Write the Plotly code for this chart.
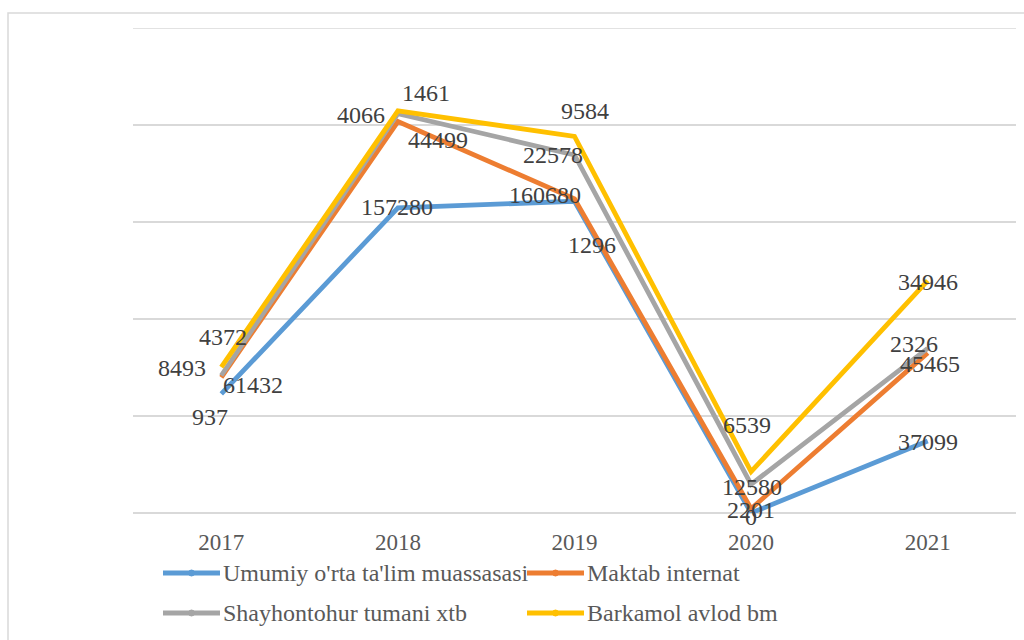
import numpy as np
import plotly.graph_objects as go

# ---------------- data ----------------
years = ["2017", "2018", "2019", "2020", "2021"]
series_names = ["Umumiy o'rta ta'lim muassasasi", "Maktab internat",
                "Shayhontohur tumani xtb", "Barkamol avlod bm"]
umumiy = [61432, 157280, 160680, 0, 37099]
maktab = [8493, 44499, 1296, 2201, 45465]
shayhontohur = [937, 4066, 22578, 12580, 2326]
barkamol = [4372, 1461, 9584, 6539, 34946]

# ---------------- style ----------------
colors = ["#5B9BD5", "#ED7D31", "#A5A5A5", "#FFC000"]
FONT = "Liberation Serif"
W, H = 1024, 640
L, R, T, B = 133, 8, 28, 127
PW, PH = W - L - R, H - T - B
Y_MAX = 250000

# data-label pixel offsets (x right, y up) for each series / year
label_dx = [[32, -1, -30, 0, 0],
            [-39, 40, 17, 0, 2],
            [-11, -37, -22, 1, -14],
            [2, 28, 10, -4, 0]]
label_dy = [[9, 1, 6, -4, -1],
            [9, -18, -46, -1, -11],
            [-41, -1, 0, -3, 4],
            [30, 18, 25, 47, -1]]


def px_x(px):
    return (px - L) / PW


def px_y(py):
    return (H - B - py) / PH


all_series = [umumiy, maktab, shayhontohur, barkamol]
cum = np.cumsum(np.array(all_series), axis=0)

fig = go.Figure()
for i, (name, vals) in enumerate(zip(series_names, all_series)):
    fig.add_trace(go.Scatter(
        x=years, y=vals, name=name, stackgroup="one", fill="none",
        mode="lines", line=dict(color=colors[i], width=4.8),
        showlegend=False, hoverinfo="x+y+name"))

annotations = []
for i, vals in enumerate(all_series):
    for j, v in enumerate(vals):
        annotations.append(dict(
            x=j, y=float(cum[i, j]), xref="x", yref="y",
            text=str(v), showarrow=False,
            xshift=label_dx[i][j], yshift=label_dy[i][j],
            font=dict(family=FONT, size=24, color="#404040")))

# manual legend (two rows, two columns)
legend_pos = [(163, 573), (527, 573), (163, 613), (527, 613)]
shapes = []
for i, name in enumerate(series_names):
    x0, y0 = legend_pos[i]
    shapes.append(dict(type="line", xref="paper", yref="paper",
                       x0=px_x(x0), x1=px_x(x0 + 57), y0=px_y(y0), y1=px_y(y0),
                       line=dict(color=colors[i], width=4.8)))
    shapes.append(dict(type="circle", xref="paper", yref="paper",
                       x0=px_x(x0 + 25.5), x1=px_x(x0 + 31.5),
                       y0=px_y(y0 - 3), y1=px_y(y0 + 3),
                       line=dict(color=colors[i], width=1), fillcolor=colors[i]))
    annotations.append(dict(x=px_x(x0 + 58), y=px_y(y0), xref="paper", yref="paper",
                            text=name, showarrow=False, xanchor="left", yanchor="middle",
                            font=dict(family=FONT, size=24, color="#595959")))

# top gridline (at the range edge)
shapes.append(dict(type="line", xref="paper", yref="y", layer="below",
                   x0=0, x1=1, y0=Y_MAX, y1=Y_MAX,
                   line=dict(color="#D9D9D9", width=1.5)))
# chart border
shapes.append(dict(type="rect", xref="paper", yref="paper", layer="below",
                   x0=px_x(8), x1=px_x(1040), y0=px_y(660), y1=px_y(13),
                   line=dict(color="#D9D9D9", width=1.5), fillcolor="rgba(0,0,0,0)"))

fig.update_layout(
    width=W, height=H, margin=dict(l=L, r=R, t=T, b=B),
    paper_bgcolor="white", plot_bgcolor="white",
    showlegend=False,
    annotations=annotations, shapes=shapes,
    xaxis=dict(type="category", range=[-0.5, 4.5], showgrid=False, zeroline=False,
               showline=False, ticks="", ticklabelstandoff=13,
               tickfont=dict(family=FONT, size=23, color="#595959")),
    yaxis=dict(range=[0, Y_MAX], dtick=50000, showticklabels=False,
               gridcolor="#D9D9D9", gridwidth=1.5, zeroline=True,
               zerolinecolor="#D9D9D9", zerolinewidth=1.5, showline=False, ticks=""),
)

fig.write_html("out.html", config={"displayModeBar": False},
               post_script="document.body.style.margin='0';")
